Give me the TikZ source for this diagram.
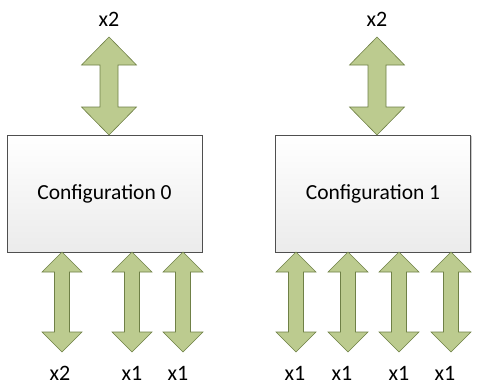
\documentclass[tikz,border=0pt]{standalone}
\usepackage{fontspec}
\setmainfont{Carlito}
\usetikzlibrary{shadows}
\definecolor{arrfill}{HTML}{BCCB8F}
\definecolor{arrdraw}{HTML}{6F8046}
\definecolor{boxdraw}{HTML}{4F4F4F}
\definecolor{boxbot}{HTML}{EBEBEB}
\newcommand{\dblarr}[6]{% cx, ytop, ybot, half head, half shaft, head length
  \fill[arrfill,draw=arrdraw,line width=0.6pt,line join=miter]
    (#1,#2) -- (#1+#4,#2+#6) -- (#1+#5,#2+#6) -- (#1+#5,#3-#6) -- (#1+#4,#3-#6)
    -- (#1,#3) -- (#1-#4,#3-#6) -- (#1-#5,#3-#6) -- (#1-#5,#2+#6) -- (#1-#4,#2+#6) -- cycle;}
\tikzset{
  cfgbox/.style={draw=boxdraw,line width=0.8pt,top color=white,bottom color=boxbot,
    minimum width=195pt,minimum height=117pt,inner sep=0pt,font=\fontsize{21.5}{24}\selectfont,
    drop shadow={shadow xshift=1.2pt,shadow yshift=-1.2pt,opacity=0.35,fill=black!60}},
  lbl/.style={font=\fontsize{22}{24}\selectfont,inner sep=0pt}
}
\begin{document}
\begin{tikzpicture}[x=1pt,y=-1pt]
\useasboundingbox (0,0) rectangle (484,389);
\node[cfgbox] (c0) at (104.5,193.5) {\raisebox{-3pt}{Configuration 0}};
\node[cfgbox] (c1) at (373,193.5) {\raisebox{-3pt}{Configuration 1}};
% top arrows
\dblarr{109}{37}{135}{27.5}{9}{28}
\dblarr{377}{37}{135}{27.5}{9}{28}
\node[lbl] (t0) at (109,19) {x2};
\node[lbl] (t1) at (377,19) {x2};
% bottom arrows left
\dblarr{62}{252}{352}{20}{7.5}{20}
\dblarr{132}{252}{352}{20}{7.5}{20}
\dblarr{183}{252}{352}{20}{7.5}{20}
\node[lbl] (b00) at (60,373) {x2};
\node[lbl] (b01) at (132,373) {x1};
\node[lbl] (b02) at (178,373) {x1};
% bottom arrows right
\dblarr{296}{252}{352}{20}{7.5}{20}
\dblarr{348}{252}{352}{20}{7.5}{20}
\dblarr{399}{252}{352}{20}{7.5}{20}
\dblarr{451}{252}{352}{20}{7.5}{20}
\node[lbl] (b10) at (295,373) {x1};
\node[lbl] (b11) at (342,373) {x1};
\node[lbl] (b12) at (399,373) {x1};
\node[lbl] (b13) at (445,373) {x1};
\end{tikzpicture}
\end{document}
